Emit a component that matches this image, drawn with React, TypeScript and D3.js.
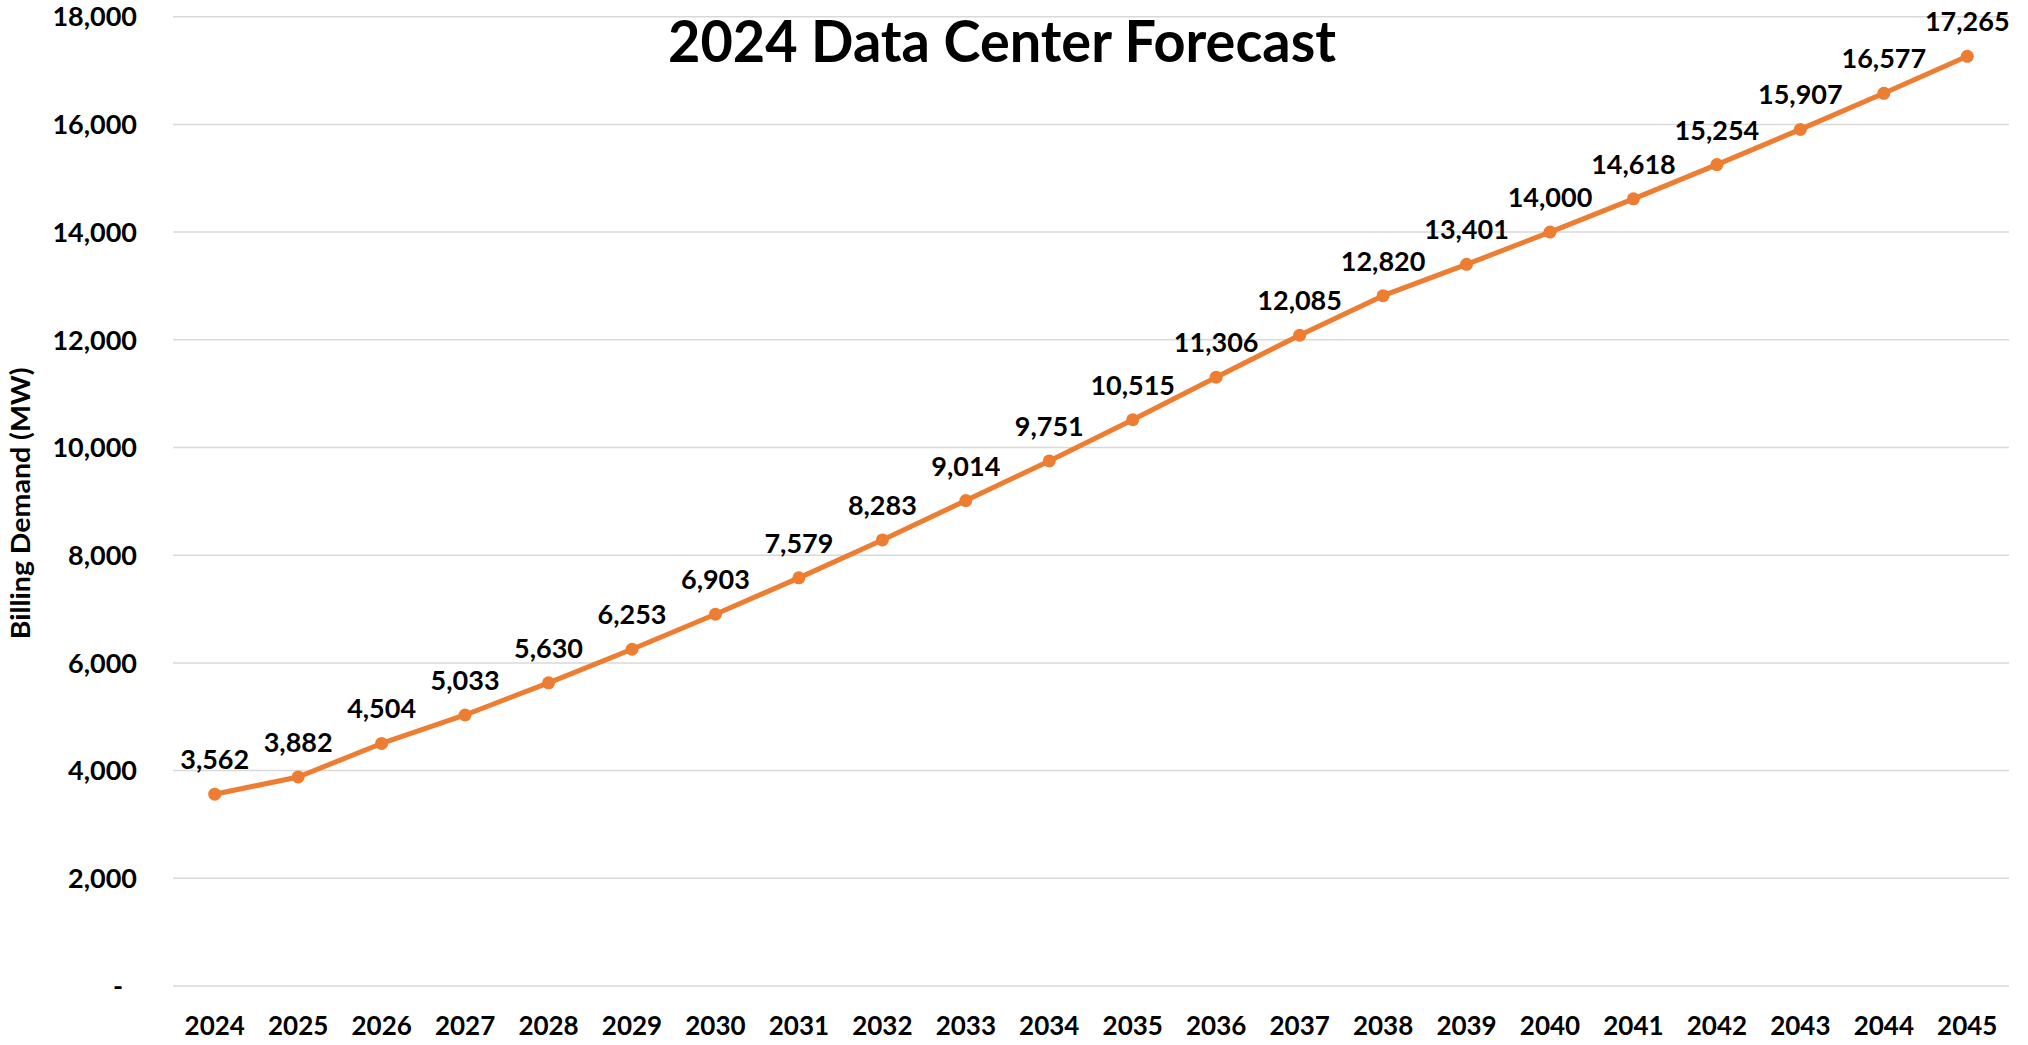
import React from 'react';
import * as d3 from 'd3';

const years = [
  '2024', '2025', '2026', '2027', '2028', '2029', '2030', '2031', '2032', '2033', '2034',
  '2035', '2036', '2037', '2038', '2039', '2040', '2041', '2042', '2043', '2044', '2045',
];
const demand = [
  3562, 3882, 4504, 5033, 5630, 6253, 6903, 7579, 8283, 9014, 9751,
  10515, 11306, 12085, 12820, 13401, 14000, 14618, 15254, 15907, 16577, 17265,
];
const yTicks = [0, 2000, 4000, 6000, 8000, 10000, 12000, 14000, 16000, 18000];

const title = '2024 Data Center Forecast';
const yTitle = 'Billing Demand (MW)';

const W = 2028;
const H = 1045;
const margin = { top: 16.7, right: 19, bottom: 59, left: 173 };
const font = "Lato, 'Open Sans', sans-serif";
const orange = '#ED7D31';

export default function App() {
  const x = d3
    .scaleBand<string>()
    .domain(years)
    .range([margin.left, W - margin.right])
    .padding(0);

  const y = d3
    .scaleLinear()
    .domain([0, 18000])
    .range([H - margin.bottom, margin.top]);

  const cx = (yr: string) => (x(yr) ?? 0) + x.bandwidth() / 2;
  const fmt = d3.format(',');

  const line = d3
    .line<number>()
    .x((_, i) => cx(years[i]))
    .y((d) => y(d));

  return (
    <svg
      width={W}
      height={H}
      style={{ position: 'absolute', left: 0, top: 0, background: '#fff' }}
      fontFamily={font}
      fontWeight={700}
    >
      {/* gridlines */}
      {yTicks.map((t) => (
        <line
          key={'g' + t}
          x1={margin.left}
          x2={W - margin.right}
          y1={y(t)}
          y2={y(t)}
          stroke="#d9d9d9"
          strokeWidth={1.5}
        />
      ))}

      {/* y tick labels */}
      {yTicks.map((t) => (
        <text
          key={'yl' + t}
          x={t === 0 ? 123 : 137}
          y={y(t)}
          dy="0.36em"
          textAnchor="end"
          fontSize={27}
          fill="#000"
        >
          {t === 0 ? '-' : fmt(t)}
        </text>
      ))}

      {/* x tick labels */}
      {years.map((yr) => (
        <text
          key={'xl' + yr}
          x={cx(yr)}
          y={1035}
          textAnchor="middle"
          fontSize={26}
          fill="#000"
        >
          {yr}
        </text>
      ))}

      {/* y axis title */}
      <text
        transform={`translate(30, ${(margin.top + H - margin.bottom) / 2 + 2}) rotate(-90)`}
        textAnchor="middle"
        fontSize={27}
        fill="#000"
        textLength={272}
        lengthAdjust="spacingAndGlyphs"
      >
        {yTitle}
      </text>

      {/* title */}
      <text
        x={1002}
        y={62}
        textAnchor="middle"
        fontSize={58}
        fill="#000"
        textLength={668}
        lengthAdjust="spacingAndGlyphs"
      >
        {title}
      </text>

      {/* series line */}
      <path d={line(demand) ?? ''} fill="none" stroke={orange} strokeWidth={5} strokeLinejoin="round" />

      {/* markers */}
      {demand.map((v, i) => (
        <circle key={'m' + i} cx={cx(years[i])} cy={y(v)} r={6.5} fill={orange} />
      ))}

      {/* data labels */}
      {demand.map((v, i) => (
        <text
          key={'dl' + i}
          x={cx(years[i])}
          y={y(v) - 25}
          textAnchor="middle"
          fontSize={27}
          fill="#000"
        >
          {fmt(v)}
        </text>
      ))}
    </svg>
  );
}
